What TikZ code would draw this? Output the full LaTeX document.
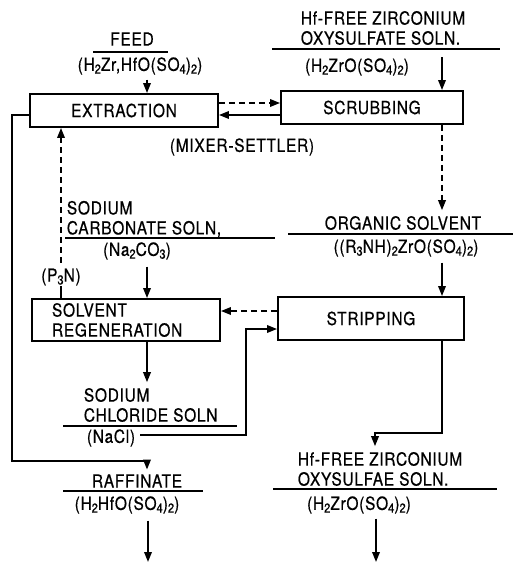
\documentclass[tikz,border=0pt]{standalone}
\usepackage{fontspec}
\setmainfont{TeX Gyre Heros}[FakeStretch=0.86, FakeBold=0.6, LetterSpace=4]
\usetikzlibrary{positioning,arrows.meta,calc}
\newcommand{\chsub}[1]{\raisebox{-0.3ex}{\fontsize{13}{13}\selectfont #1}}

\begin{document}
\begin{tikzpicture}[x=1pt, y=-1pt, >={Triangle[length=10pt,width=7.5pt]},
    font=\fontsize{18}{20}\selectfont, line width=1.8pt,
    unitbox/.style={draw, line width=1.9pt, inner sep=0pt},
    lbl/.style={inner sep=0pt},
    rule/.style={line width=1.6pt},
    flowdash/.style={dash pattern=on 6pt off 4pt}]
  \useasboundingbox (0,0) rectangle (518,564);
  % columns of the vertical streams
  \coordinate (lcol) at (147,0);
  \coordinate (rcol) at (442,0);
  \coordinate (mcol) at (375,0);
  \coordinate (pcol) at (61,0);

  % units
  \node[unitbox, minimum width=188pt, minimum height=33pt] (ext) at (124,110.5) {EXTRACTION};
  \node[unitbox, minimum width=182pt, minimum height=33pt] (scr) at (372,107.5) {SCRUBBING};
  \node[unitbox, minimum width=188pt, minimum height=42pt, text width=148pt, align=left, inner xsep=20pt] (reg) at (126,320)
    {SOLVENT\\REGENERATION};
  \node[unitbox, minimum width=186pt, minimum height=43pt] (str) at (371,318.5) {STRIPPING};
  \node[lbl] (mixer) at (242,147) {(MIXER-SETTLER)};

  % streams
  \node[lbl] (feed) at (132,39) {FEED};
  \draw[rule] (93,52) -- (168,52);
  \node[lbl] (feedf) at (140,66) {(H\chsub{2}Zr,HfO(SO\chsub{4})\chsub{2})};

  \node[lbl, align=left, anchor=west] (hfin) at (300,28) {Hf-FREE ZIRCONIUM\\OXYSULFATE SOLN.};
  \draw[rule] (272,49) -- (500,49);
  \node[lbl] (hfinf) at (357,67) {(H\chsub{2}ZrO(SO\chsub{4})\chsub{2})};

  \node[lbl] (org) at (403,223) {ORGANIC SOLVENT};
  \draw[rule] (288,234) -- (513,234);
  \node[lbl] (orgf) at (406,248) {((R\chsub{3}NH)\chsub{2}ZrO(SO\chsub{4})\chsub{2})};

  \node[lbl, align=left, anchor=west] (carb) at (66,219) {SODIUM\\CARBONATE SOLN,};
  \draw[rule] (65,238) -- (275,238);
  \node[lbl] (carbf) at (137,251) {(Na\chsub{2}CO\chsub{3})};
  \node[lbl] (amine) at (61,277) {(P\chsub{3}N)};

  \node[lbl, align=left, anchor=west] (chl) at (83,405) {SODIUM\\CHLORIDE SOLN};
  \draw[rule] (63,426) -- (237,426);
  \node[lbl] (nacl) at (111,438) {(NaCl)};

  \node[lbl] (raff) at (137,481) {RAFFINATE};
  \draw[rule] (63,491) -- (203,491);
  \node[lbl] (rafff) at (127,505) {(H\chsub{2}HfO(SO\chsub{4})\chsub{2})};
  \coordinate (raffout) at (148,562);

  \node[lbl, align=left, anchor=west] (hfout) at (297,469) {Hf-FREE ZIRCONIUM\\OXYSULFAE SOLN.};
  \draw[rule] (273,489) -- (497,489);
  \node[lbl] (hfoutf) at (359,505) {(H\chsub{2}ZrO(SO\chsub{4})\chsub{2})};
  \coordinate (hfend) at (376,562);

  % connectors
  \draw[->] ([yshift=-4pt]feedf.south -| lcol) -- (ext.north -| lcol);
  \draw[->] (hfinf.north -| rcol) -- (scr.north -| rcol);
  \draw[->, flowdash] ([yshift=7.5pt]ext.east) -- ([yshift=7.5pt]ext.east -| scr.west);
  \draw[->] ([yshift=-4.5pt]ext.east -| scr.west) -- ([yshift=-4.5pt]ext.east);
  \draw[->, flowdash] (scr.south -| rcol) -- ([yshift=5pt]org.north -| rcol);
  \draw[->] ([yshift=-5pt]orgf.south -| rcol) -- (str.north -| rcol);
  \draw[->] ([yshift=-6pt]carbf.south -| lcol) -- (reg.north -| lcol);
  \draw (reg.north -| pcol) -- (amine.south -| pcol);
  \draw[->, flowdash] ([yshift=5pt]amine.north -| pcol) -- (ext.south -| pcol);
  \draw[->, flowdash] ([yshift=7.5pt]str.west) -- ([yshift=7.5pt]str.west -| reg.east);
  \draw[->] (reg.south -| lcol) -- ([yshift=5pt]chl.north -| lcol);
  \draw[->] ([yshift=3pt,xshift=4pt]nacl.east) -| ([xshift=-31pt,yshift=-10.5pt]str.west) -- ([yshift=-10.5pt]str.west);
  \draw[->] ([yshift=-4.5pt]ext.west) -- ++(-17,0) -- ++(0,346) -| ([yshift=4pt]raff.north -| lcol);
  \draw[->] ([yshift=-6pt]rafff.south -| raffout) -- (raffout);
  \draw[->] (str.south -| rcol) -- ++(0,92) -| ([yshift=5pt]hfout.north -| mcol);
  \draw[->] ([yshift=-4pt]hfoutf.south -| hfend) -- (hfend);
\end{tikzpicture}
\end{document}
